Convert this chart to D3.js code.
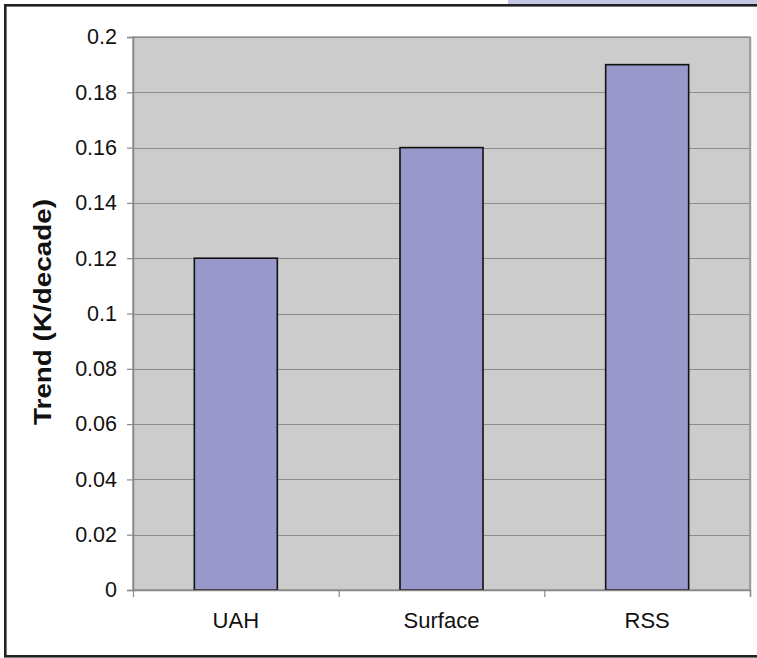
<!DOCTYPE html>
<html>
<head>
<meta charset="utf-8">
<script src="https://cdn.jsdelivr.net/npm/d3@7"></script>
<style>
  html, body { margin: 0; padding: 0; background: #fff; }
  svg { display: block; }
  text { font-family: "Liberation Sans", Arial, sans-serif; fill: #111; }
</style>
</head>
<body>
<svg id="chart" width="757" height="658"></svg>
<script>
const categories = ["UAH", "Surface", "RSS"];
const values = [0.12, 0.16, 0.19];
const yTicks = [0, 0.02, 0.04, 0.06, 0.08, 0.1, 0.12, 0.14, 0.16, 0.18, 0.2];
const yTitle = "Trend (K/decade)";

const svg = d3.select("#chart");
const W = 757, H = 658;
const plot = { left: 133, right: 750, top: 37, bottom: 590 };

// decorative top strip and outer frame
svg.append("rect").attr("x", 508).attr("y", 0).attr("width", W - 508).attr("height", 4.5).attr("fill", "#c6c6e6");
svg.append("rect").attr("x", 5.3).attr("y", 5.3).attr("width", W + 10).attr("height", 651)
  .attr("fill", "none").attr("stroke", "#222").attr("stroke-width", 2.6);

const x = d3.scaleBand().domain(categories).range([plot.left, plot.right]).padding(0);
const y = d3.scaleLinear().domain([0, 0.2]).range([plot.bottom, plot.top]);

// plot background
svg.append("rect").attr("x", plot.left).attr("y", plot.top)
  .attr("width", plot.right - plot.left).attr("height", plot.bottom - plot.top)
  .attr("fill", "#cccccc").attr("stroke", "#8c8c8c").attr("stroke-width", 1.3);

// gridlines
svg.append("g").selectAll("line").data(yTicks.filter(d => d > 0)).join("line")
  .attr("x1", plot.left).attr("x2", plot.right)
  .attr("y1", d => Math.round(y(d)) + 0.5).attr("y2", d => Math.round(y(d)) + 0.5)
  .attr("stroke", "#8c8c8c").attr("stroke-width", 1.2);

// right shadow
svg.append("line").attr("x1", plot.right + 0.5).attr("x2", plot.right + 0.5)
  .attr("y1", plot.top).attr("y2", plot.bottom + 7).attr("stroke", "#9a9a9a").attr("stroke-width", 1.5);

// bars
const barW = 83;
svg.append("g").selectAll("rect").data(values).join("rect")
  .attr("x", (d, i) => x(categories[i]) + x.bandwidth() / 2 - barW / 2)
  .attr("y", d => y(d))
  .attr("width", barW)
  .attr("height", d => y(0) - y(d))
  .attr("fill", "#9898cb").attr("stroke", "#111").attr("stroke-width", 1.6);

// y axis
const yAxis = d3.axisLeft(y).tickValues(yTicks).tickSize(6).tickPadding(10)
  .tickFormat(d => d3.format("")(+d.toFixed(2)));
const gy = svg.append("g").attr("transform", `translate(${plot.left},0)`).call(yAxis);
gy.select(".domain").attr("stroke", "#888").attr("stroke-width", 1.5);
gy.selectAll(".tick line").attr("stroke", "#888").attr("stroke-width", 1.2);
gy.selectAll(".tick text").attr("font-size", 21.5).attr("fill", "#111")
  .style("font-family", "'Liberation Sans', Arial, sans-serif");

// x axis
const xAxis = d3.axisBottom(x).tickSize(0).tickPadding(22);
const gx = svg.append("g").attr("transform", `translate(0,${plot.bottom})`).call(xAxis);
gx.select(".domain").attr("stroke", "#888").attr("stroke-width", 1.5);
gx.selectAll(".tick text").attr("font-size", 22).attr("fill", "#111")
  .style("font-family", "'Liberation Sans', Arial, sans-serif");
// category boundary ticks
const bounds = categories.map(c => x(c)).concat([plot.right]);
svg.append("g").selectAll("line").data(bounds).join("line")
  .attr("x1", d => d + 0.5).attr("x2", d => d + 0.5)
  .attr("y1", plot.bottom).attr("y2", plot.bottom + 7)
  .attr("stroke", "#888").attr("stroke-width", 1.2);

// y title
svg.append("text")
  .attr("transform", "translate(51,312) rotate(-90) scale(1.16,1)")
  .attr("text-anchor", "middle")
  .attr("font-size", 24).attr("font-weight", "bold")
  .text(yTitle);
</script>
</body>
</html>
